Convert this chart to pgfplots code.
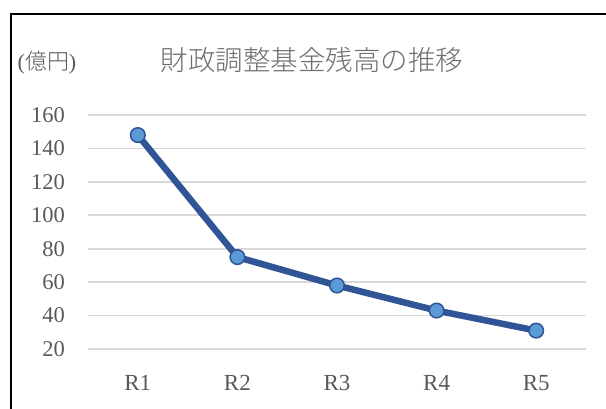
\documentclass[border=0pt]{standalone}
\usepackage{pgfplots}
\pgfplotsset{compat=1.18}
\usepackage{fontspec}
\setmainfont{Liberation Serif}
\newfontfamily\jp{Noto Sans CJK JP}[UprightFont={* Light}]
\definecolor{linecol}{HTML}{2F5597}
\definecolor{markfill}{HTML}{5B9BD5}
\definecolor{gridcol}{HTML}{D9D9D9}
\definecolor{txt}{HTML}{595959}
\definecolor{ttl}{HTML}{6E6E6E}
\begin{document}
\begin{tikzpicture}[x=1pt,y=1pt]
\useasboundingbox (0,0) rectangle (606,-409);
\fill[white] (0,0) rectangle (606,-409);
\begin{axis}[
  at={(88pt,-349pt)}, anchor=south west,
  width=498pt, height=234pt, scale only axis,
  xmin=-0.5, xmax=4.5, ymin=20, ymax=160,
  ytick={20,40,...,160},
  xtick={0,1,2,3,4},
  xticklabels={R1,R2,R3,R4,R5},
  axis line style={draw=none},
  major tick length=0pt,
  ymajorgrids,
  grid style={gridcol, line width=1.8pt},
  clip=false,
  /pgf/number format/assume math mode=true,
  y tick label style={anchor=east, inner sep=0pt, xshift=-23pt, font=\rmfamily\fontsize{22.5}{24}\selectfont, text=txt},
  x tick label style={anchor=center, inner sep=0pt, yshift=-34pt, font=\rmfamily\fontsize{23}{25}\selectfont, text=txt},
]
\addplot[linecol, line width=6.5pt, mark=*, mark size=7.3pt,
  mark options={fill=markfill, draw=linecol, line width=1.5pt}]
  coordinates {(0,148) (1,75) (2,58) (3,43) (4,31)};
\end{axis}
\node[text=ttl, font=\jp\fontsize{27.5}{30}\selectfont] at (312,-60) {財政調整基金残高の推移};
\node[text=txt, font=\rmfamily\fontsize{22}{24}\selectfont] at (47,-63) {({\jp 億円})};
\draw[black, line width=2.6pt] (11,-420) -- (11,-14) -- (620,-14);
\end{tikzpicture}
\end{document}
